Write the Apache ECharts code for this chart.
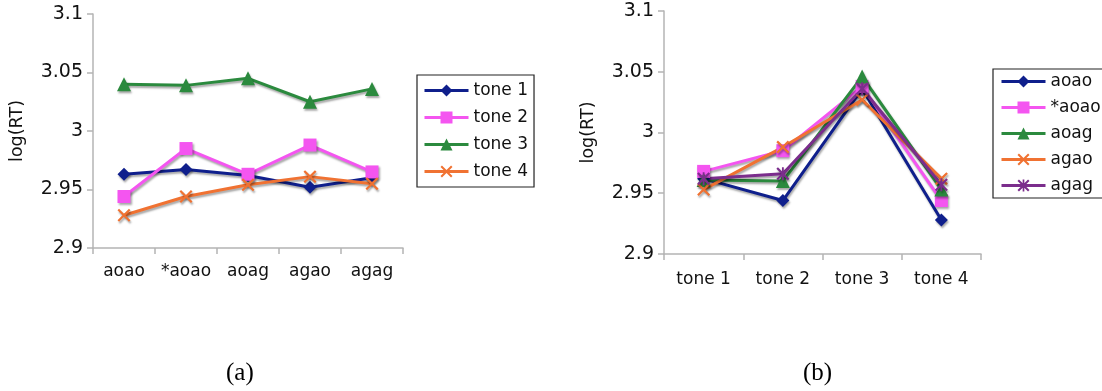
<!DOCTYPE html>
<html>
<head>
<meta charset="utf-8">
<script src="https://cdn.jsdelivr.net/npm/echarts@6/dist/echarts.min.js"></script>
<style>
  html, body { margin: 0; padding: 0; background: #fff; }
  #chart { width: 1102px; height: 391px; }
</style>
</head>
<body>
<div id="chart"></div>
<script>
// Panel (a): log(RT) by condition, one line per tone
const condCategories = ['aoao', '*aoao', 'aoag', 'agao', 'agag'];
const tone1 = [2.963, 2.967, 2.962, 2.952, 2.960];
const tone2 = [2.944, 2.985, 2.963, 2.988, 2.965];
const tone3 = [3.040, 3.039, 3.045, 3.025, 3.036];
const tone4 = [2.928, 2.944, 2.954, 2.961, 2.955];

// Panel (b): log(RT) by tone, one line per condition
const toneCategories = ['tone 1', 'tone 2', 'tone 3', 'tone 4'];
const aoao = [2.962, 2.944, 3.036, 2.928];
const starAoao = [2.968, 2.985, 3.038, 2.944];
const aoag = [2.961, 2.960, 3.046, 2.953];
const agao = [2.953, 2.988, 3.027, 2.962];
const agag = [2.962, 2.966, 3.036, 2.957];

const yTickLabels = ['2.9', '2.95', '3', '3.05', '3.1'];
const captions = ['(a)', '(b)'];

const COLORS = {
  navy: '#0f1f8c',
  magenta: '#f455f0',
  green: '#2b8a3e',
  orange: '#f07232',
  purple: '#7b2d8c'
};

const SYM_X = 'path://M0,1.2L1.2,0L5,3.8L8.8,0L10,1.2L6.2,5L10,8.8L8.8,10L5,6.2L1.2,10L0,8.8L3.8,5Z';
const SYM_STAR = 'path://M0,1.2L1.2,0L5,3.8L8.8,0L10,1.2L6.2,5L10,8.8L8.8,10L5,6.2L1.2,10L0,8.8L3.8,5Z M4.3,0L5.7,0L5.7,10L4.3,10Z';

const FONT = 'DejaVu Sans';
const AXIS_GRAY = '#b4b4b4';

function lineSeries(name, data, color, symbol, size, axisIdx) {
  return {
    type: 'line',
    name: name,
    data: data,
    xAxisIndex: axisIdx,
    yAxisIndex: axisIdx,
    symbol: symbol,
    symbolSize: size,
    showSymbol: true,
    animation: false,
    lineStyle: {
      color: color, width: 3,
      shadowColor: 'rgba(0,0,0,0.35)', shadowBlur: 2, shadowOffsetX: 1, shadowOffsetY: 2
    },
    itemStyle: {
      color: color,
      shadowColor: 'rgba(0,0,0,0.35)', shadowBlur: 2, shadowOffsetX: 1, shadowOffsetY: 2
    },
    emphasis: { disabled: true }
  };
}

function valueAxis(gridIndex) {
  return {
    type: 'value',
    gridIndex: gridIndex,
    min: 2.9,
    max: 3.1,
    interval: 0.05,
    name: 'log(RT)',
    nameLocation: 'middle',
    nameRotate: 90,
    nameGap: 67,
    nameTextStyle: { fontFamily: FONT, fontSize: 17.5, color: '#111' },
    axisLine: { show: true, lineStyle: { color: AXIS_GRAY, width: 1.5 } },
    axisTick: { show: true, length: 6, lineStyle: { color: AXIS_GRAY, width: 1.5 } },
    splitLine: { show: false },
    axisLabel: {
      fontFamily: FONT, fontSize: 19, color: '#111', margin: 10,
      formatter: function (v) { return yTickLabels[Math.round((v - 2.9) / 0.05)]; }
    }
  };
}

function categoryAxis(gridIndex, cats, margin) {
  return {
    type: 'category',
    gridIndex: gridIndex,
    data: cats,
    boundaryGap: true,
    axisLine: { show: true, lineStyle: { color: AXIS_GRAY, width: 1.5 } },
    axisTick: { show: true, length: 6, alignWithLabel: false, lineStyle: { color: AXIS_GRAY, width: 1.5 } },
    splitLine: { show: false },
    axisLabel: { fontFamily: FONT, fontSize: 17, color: '#111', margin: margin, interval: 0 }
  };
}

function legendBox(names, left, top, padding, gap) {
  return {
    data: names,
    orient: 'vertical',
    left: left,
    top: top,
    padding: padding,
    itemGap: gap,
    itemWidth: 44,
    itemHeight: 15,
    itemTextGap: 4,
    borderColor: '#222',
    borderWidth: 1.2,
    selectedMode: false,
    lineStyle: { width: 3 },
    textStyle: { fontFamily: FONT, fontSize: 17, color: '#111' }
  };
}

const chart = echarts.init(document.getElementById('chart'), null, { renderer: 'canvas' });

chart.setOption({
  backgroundColor: '#ffffff',
  animation: false,
  grid: [
    { left: 93, top: 14, width: 310, height: 234 },
    { left: 664, top: 11, width: 317, height: 243 }
  ],
  xAxis: [categoryAxis(0, condCategories, 15), categoryAxis(1, toneCategories, 17)],
  yAxis: [valueAxis(0), valueAxis(1)],
  legend: [
    legendBox(['tone 1', 'tone 2', 'tone 3', 'tone 4'], 417, 75, [7, 6, 7, 6], 10),
    legendBox(['aoao', '*aoao', 'aoag', 'agao', 'agag'], 993, 69, [4, 8, 4, 7], 9)
  ],
  graphic: [
    { type: 'text', left: 226, top: 361, style: { text: captions[0], font: '25px "Liberation Serif"', fill: '#000' } },
    { type: 'text', left: 803, top: 361, style: { text: captions[1], font: '25px "Liberation Serif"', fill: '#000' } }
  ],
  series: [
    lineSeries('tone 1', tone1, COLORS.navy, 'diamond', 13, 0),
    lineSeries('tone 2', tone2, COLORS.magenta, 'rect', 13, 0),
    lineSeries('tone 3', tone3, COLORS.green, 'triangle', 14, 0),
    lineSeries('tone 4', tone4, COLORS.orange, SYM_X, 13, 0),
    lineSeries('aoao', aoao, COLORS.navy, 'diamond', 13, 1),
    lineSeries('*aoao', starAoao, COLORS.magenta, 'rect', 13, 1),
    lineSeries('aoag', aoag, COLORS.green, 'triangle', 14, 1),
    lineSeries('agao', agao, COLORS.orange, SYM_X, 13, 1),
    lineSeries('agag', agag, COLORS.purple, SYM_STAR, 13, 1)
  ]
});
</script>
</body>
</html>
